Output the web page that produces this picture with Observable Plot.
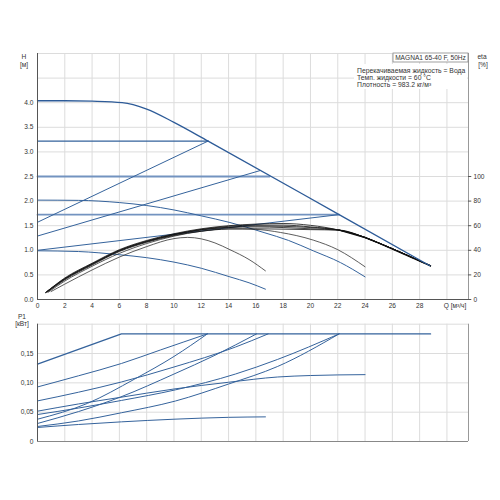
<!DOCTYPE html>
<html>
<head>
<meta charset="utf-8">
<script src="https://cdn.jsdelivr.net/npm/d3@7"></script>
<script src="https://cdn.jsdelivr.net/npm/@observablehq/plot@0.6"></script>
<style>
  body { margin: 0; background: #fff; }
  #wrap { position: relative; width: 500px; height: 500px; overflow: hidden; font-family: "Liberation Sans", Arial, sans-serif; }
  #topChart, #bottomChart { position: absolute; left: 0; }
  #topChart { top: 0; }
  #bottomChart { top: 312px; }
</style>
</head>
<body>
<div id="wrap"><div id="topChart"></div><div id="bottomChart"></div></div>
<script>
// ---------- ticks / axes ----------
const Q_MAX = 31.58;
const Q_TICKS = [0, 2, 4, 6, 8, 10, 12, 14, 16, 18, 20, 22, 24, 26, 28];
const Q_GRID = [2, 4, 6, 8, 10, 12, 14, 16, 18, 20, 22, 24, 26, 28, 30];
const H_TICKS = [0, 0.5, 1.0, 1.5, 2.0, 2.5, 3.0, 3.5, 4.0];
const H_GRID = [0.5, 1.0, 1.5, 2.0, 2.5, 3.0, 3.5, 4.0, 4.5, 5.0];
const ETA_TICKS = [0, 20, 40, 60, 80, 100];
const ETA_PER_M = 40; // right axis: 100 % sits at H = 2.5 m
const P_TICKS = [0, 0.05, 0.10, 0.15];
const P_GRID = [0.05, 0.10, 0.15, 0.20];

// ---------- head H [m] vs Q [m3/h] ----------
const hMax   = [[0,4.04],[2,4.04],[4,4.03],[6.2,4.0],[8,3.87],[10,3.6],[12.5,3.22],[22.1,1.725],[28.75,0.685]];
const hCP322 = [[0,3.22],[12.5,3.22]];
const hCP25  = [[0,2.5],[17.0,2.5]];
const hCP173 = [[0,1.725],[22.1,1.725]];
const hPP157 = [[0,1.57],[12.5,3.22]];
const hPP129 = [[0,1.29],[16.3,2.62]];
const hPP100 = [[0,1.0],[22.1,1.725]];
const hII    = [[0,2.02],[3,2.015],[6,1.97],[8,1.91],[10,1.82],[12,1.70],[14.1,1.565],[16.6,1.36],[18.4,1.2],[20.2,0.99],[22.2,0.75],[24,0.46]];
const hI     = [[0,0.99],[3,0.975],[6,0.91],[8,0.85],[10,0.76],[12,0.635],[14.1,0.46],[15.5,0.34],[16.7,0.21]];

// ---------- efficiency eta [%] vs Q ----------
const etaTail = [[22.1,56.4],[24,50.4],[25.1,45.5],[28.8,27.4]];
const etaA = [[0.6,5.7],[2,17.5],[4,29.5],[6,40.5],[8,48],[10,53.5],[12,57.5],[14,60],[16,61.3],[18,61.8],[20,60.3],[22.1,56.4]];
const etaB = [[0.6,5.7],[2,17],[4,29],[6,40],[8,47.5],[10,53],[12,57],[14,59.5],[16,60.5],[18,60.5],[20,59],[22.1,56.4]];
const etaC = [[0.7,6],[2,16.5],[4,28.5],[6,39.5],[8,47],[10,52.5],[12,56.5],[14,58.5],[16,59],[18,58.5],[20,57.5],[22.1,56.4]];
const etaD = [[0.7,6],[2,16],[4,28],[6,39],[8,46.5],[10,52],[12,55.5],[14,57.3],[16,57.5],[18,57.2],[20,56.8],[22.1,56.4]];
const etaE = [[0.6,5.7],[2,16.8],[4,28.8],[6,39.8],[8,47.2],[10,52.8],[12,56.8],[14,58.8],[16,59.8],[18,59.5],[20,58.5],[22.1,56.4]];
const etaII = [[0.8,6],[2,15],[4,27],[6,37.5],[8,45.5],[10,51.5],[12,55.5],[14,57.5],[16,57],[17.8,54.5],[20.2,48.3],[22,40.5],[24,26.6]];
const etaI  = [[1,6.5],[2,12.5],[4,24],[6,34.5],[8,43],[10,49.5],[11,50.5],[12,49.3],[13,46],[14.1,40.5],[15.5,32.5],[16.7,23.3]];

// ---------- power P1 [kW] vs Q ----------
const pMax   = [[0,0.132],[6.15,0.1835],[28.8,0.1835]];
const pCP322 = [[0,0.093],[3,0.112],[6.15,0.133],[9,0.156],[12.45,0.1835]];
const pCP25  = [[0,0.0692],[3,0.084],[6.15,0.1015],[10,0.127],[14.5,0.161],[16.9,0.1835]];
const pCP173 = [[0,0.046],[3,0.057],[6.15,0.070],[10.1,0.088],[14.5,0.115],[17.6,0.140],[22.1,0.1835]];
const pPP157 = [[0,0.038],[3.66,0.065],[7.08,0.106],[10,0.145],[12.45,0.1835]];
const pPP129 = [[0,0.0307],[3,0.051],[6.1,0.076],[10,0.115],[13,0.147],[16.05,0.1835]];
const pPP100 = [[0,0.0256],[3,0.035],[6.15,0.049],[10.1,0.069],[14,0.098],[17.6,0.128],[22.1,0.1835]];
const pII    = [[0,0.0517],[3,0.064],[6,0.075],[10,0.0895],[14,0.101],[17.6,0.110],[20,0.1125],[24,0.114]];
const pI     = [[0,0.0239],[3,0.029],[6.15,0.0335],[10,0.038],[14,0.0412],[16.7,0.042]];

// ---------- texts ----------
const TITLE = "MAGNA1 65-40 F, 50Hz";
const INFO = ["Перекачиваемая жидкость = Вода", "Темп. жидкости = 60 °C", "Плотность = 983.2 кг/м³"];

const rows = a => a.map(([q, v]) => ({q, v}));
const BLUE = "#35639c", BLUE_LIGHT = "#7393c0", GRID = "#dcdcdc", AXIS = "#555";
const FONT = "'Liberation Sans', Arial, sans-serif";

const blue = (a, o = {}) => Plot.line(rows(a), {x: "q", y: "v", stroke: BLUE, strokeWidth: 1, curve: "monotone-x", ...o});
const eta = (a, o = {}) => Plot.line(rows(a), {x: "q", y: d => d.v / ETA_PER_M, stroke: "#111", strokeWidth: 0.8, curve: "monotone-x", ...o});

const chartTop = Plot.plot({
  width: 500, height: 312,
  marginLeft: 37, marginRight: 32, marginTop: 53, marginBottom: 13,
  style: {fontSize: "6.6px", fontFamily: FONT, color: "#333", background: "transparent", overflow: "visible"},
  x: {domain: [0, Q_MAX], ticks: Q_TICKS, tickSize: 0, tickPadding: 3.5, tickFormat: d => String(d), label: null},
  y: {domain: [0, 5], ticks: H_TICKS, tickSize: 0, tickPadding: 4, tickFormat: d3.format(".1f"), label: null},
  marks: [
    Plot.ruleX(Q_GRID, {stroke: GRID}),
    Plot.ruleY(H_GRID, {stroke: GRID}),
    blue(hCP173, {stroke: BLUE_LIGHT, strokeWidth: 1.8, curve: "linear"}),
    blue(hCP25, {stroke: BLUE_LIGHT, strokeWidth: 1.8, curve: "linear"}),
    blue(hCP322, {strokeWidth: 1.2, curve: "linear"}),
    blue(hPP157, {curve: "linear"}),
    blue(hPP129, {curve: "linear"}),
    blue(hPP100, {curve: "linear"}),
    blue(hII),
    blue(hI),
    eta(etaI, {stroke: "#333"}),
    eta(etaII, {stroke: "#333"}),
    eta([...etaA, ...etaTail.slice(1)]),
    eta([...etaB, ...etaTail.slice(1)]),
    eta([...etaC, ...etaTail.slice(1)]),
    eta([...etaD, ...etaTail.slice(1)]),
    eta([...etaE, ...etaTail.slice(1)]),
    eta(etaTail, {strokeWidth: 1.4, curve: "linear"}),
    blue(hMax, {stroke: "#2d5b98", strokeWidth: 1.3}),
    Plot.ruleX([Q_MAX], {stroke: "#999"}),
    Plot.ruleX([0], {stroke: AXIS}),
    Plot.ruleY([0], {stroke: AXIS}),
    Plot.ruleY(ETA_TICKS, {y: d => d / ETA_PER_M, x1: Q_MAX, x2: Q_MAX + 0.24, stroke: AXIS}),
    Plot.text(ETA_TICKS, {x: Q_MAX, y: d => d / ETA_PER_M, text: d => String(d), dx: 5, textAnchor: "start", fill: "#333"})
  ]
});

const chartBottom = Plot.plot({
  width: 500, height: 188,
  marginLeft: 37, marginRight: 32, marginTop: 11.7, marginBottom: 59,
  style: {fontSize: "6.6px", fontFamily: FONT, color: "#333", background: "transparent", overflow: "visible"},
  x: {domain: [0, Q_MAX], axis: null},
  y: {domain: [0, 0.2], ticks: P_TICKS, tickSize: 0, tickPadding: 4, label: null,
      tickFormat: d => d === 0 ? "0" : d.toFixed(2).replace(".", ",")},
  marks: [
    Plot.ruleX(Q_GRID, {stroke: GRID}),
    Plot.ruleY(P_GRID, {stroke: GRID}),
    blue(pCP322), blue(pCP25), blue(pCP173),
    blue(pPP157), blue(pPP129), blue(pPP100),
    blue(pII), blue(pI),
    blue(pMax, {curve: "linear", strokeWidth: 1.3}),
    Plot.ruleX([Q_MAX], {stroke: "#999"}),
    Plot.ruleY([0], {stroke: "#888"}),
    Plot.ruleX([0], {stroke: AXIS})
  ]
});

document.getElementById("topChart").appendChild(chartTop);
document.getElementById("bottomChart").appendChild(chartBottom);

// ---------- annotations ----------
const st = d3.select(chartTop);
const addText = (sel, x, y, t, anchor = "middle", size = "6.6px") =>
  sel.append("text").attr("x", x).attr("y", y).attr("text-anchor", anchor)
     .attr("fill", "#333").style("font-size", size).style("font-family", FONT).text(t);

addText(st, 24, 59, "H");
addText(st, 24, 67, "[м]");
addText(st, 482, 59, "eta");
addText(st, 483, 67, "[%]");
addText(st, 455, 308, "Q [м³/ч]");

st.append("rect").attr("x", 354).attr("y", 64).attr("width", 113).attr("height", 25).attr("fill", "#fff");
INFO.forEach((t, i) => addText(st, 357, 73 + i * 6.8, t, "start", "6.8px"));
st.append("rect").attr("x", 393).attr("y", 53).attr("width", 75).attr("height", 9)
  .attr("fill", "#fff").attr("stroke", "#888").attr("stroke-width", 0.8);
addText(st, 430.5, 60.3, TITLE);

const sb = d3.select(chartBottom);
addText(sb, 22, 6.5, "P1");
addText(sb, 22, 13.5, "[кВт]");
</script>
</body>
</html>
